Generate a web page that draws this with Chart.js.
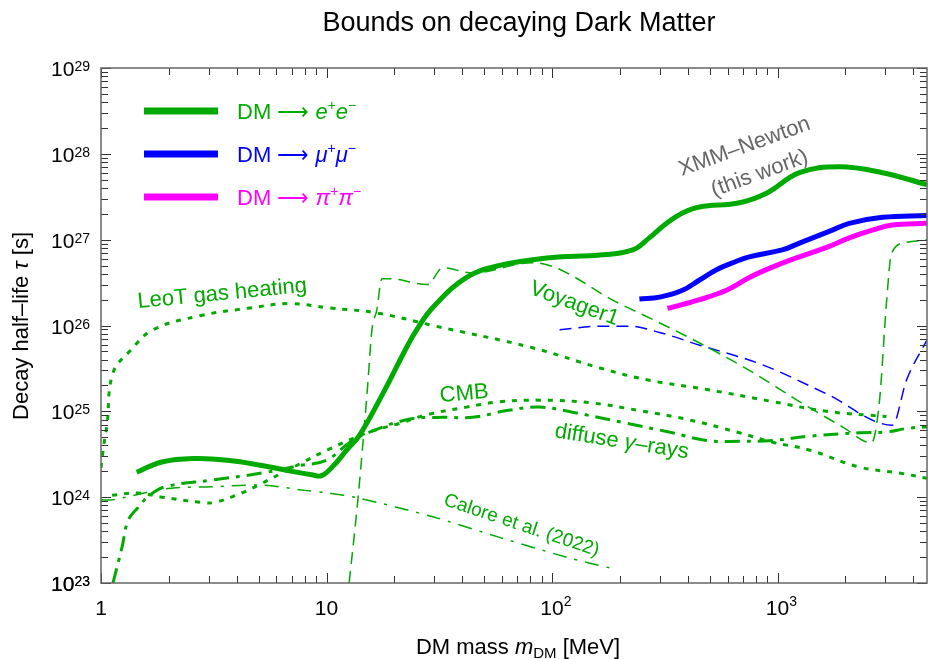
<!DOCTYPE html>
<html>
<head>
<meta charset="utf-8">
<title>Bounds on decaying Dark Matter</title>
<script src="https://cdn.jsdelivr.net/npm/chart.js@4.4.1/dist/chart.umd.min.js"></script>
<style>
  html, body { margin: 0; padding: 0; background: #fff; }
  #wrap { width: 928px; height: 659px; }
</style>
</head>
<body>
<div id="wrap"><canvas id="dmChart" width="928" height="659"></canvas></div>
<script>
// ==================== DATA ====================
// DM mass in MeV, decay half-life in s

// XMM-Newton (this work)
const eeMass = [1.44, 1.86, 2.61, 3.65, 5.17, 6.74, 8.6, 9.5, 10.7, 12.3, 14.0, 17.8, 22.7, 25.1, 29.6, 41.8, 58.6, 97.6, 163, 228, 270, 322, 379, 451, 678, 893, 1250, 1880, 2920, 4600];
const eeTau  = [1.95e24, 2.57e24, 2.82e24, 2.69e24, 2.34e24, 2.04e24, 1.82e24, 1.78e24, 2.3e24, 3.55e24, 5.25e24, 1.62e25, 5.62e25, 8.91e25, 1.62e26, 3.63e26, 5.01e26, 6.17e26, 6.61e26, 7.59e26, 1.05e27, 1.55e27, 2.04e27, 2.40e27, 2.69e27, 3.47e27, 6.03e27, 7.08e27, 6.03e27, 4.37e27];

const mmMass = [244, 300, 379, 451, 536, 631, 750, 1050, 1250, 1750, 2080, 2920, 4600];
const mmTau  = [2.04e26, 2.14e26, 2.57e26, 3.39e26, 4.47e26, 5.37e26, 6.31e26, 7.59e26, 9.12e26, 1.29e27, 1.55e27, 1.82e27, 1.91e27];

const ppMass = [325, 451, 594, 750, 949, 1250, 1650, 2080, 2630, 3230, 4600];
const ppTau  = [1.58e26, 2.0e26, 2.57e26, 3.63e26, 4.79e26, 6.31e26, 8.13e26, 1.05e27, 1.29e27, 1.48e27, 1.55e27];

// Voyager1
const voyEMass = [12.6, 13.8, 15.2, 15.9, 16.7, 17.6, 19.1, 28.1, 32.7, 44.5, 82, 199, 407, 750, 1250, 1940, 2610, 2830, 3040, 3200, 3730, 4600];
const voyETau  = [1.0e23, 9.8e23, 1.9e25, 8.9e25, 1.5e26, 3.5e26, 3.5e26, 3.0e26, 4.7e26, 4.1e26, 5.4e26, 1.8e26, 7.2e25, 3.0e25, 1.3e25, 6.6e24, 4.3e24, 1.3e25, 1.8e26, 6.9e26, 9.3e26, 1.0e27];

const voyMuMass = [108, 162, 221, 300, 451, 831, 1650, 3230, 3730, 4600];
const voyMuTau  = [8.9e25, 9.8e25, 9.8e25, 8.3e25, 5.9e25, 3.6e25, 1.6e25, 6.9e24, 2.3e25, 6.8e25];

// LeoT gas heating
const leoMass = [1.0, 1.03, 1.063, 1.13, 1.35, 1.70, 2.75, 4.57, 6.9, 10.3, 16.7, 29.6, 82, 163, 270, 484, 950, 1650, 3040];
const leoTau  = [2.2e24, 4.1e24, 6.9e24, 2.8e25, 5.1e25, 8.9e25, 1.3e26, 1.6e26, 1.8e26, 1.6e26, 1.4e26, 1.0e26, 5.5e25, 3.2e25, 2.3e25, 1.8e25, 1.3e25, 1.0e25, 8.7e24];

// CMB
const cmbMass = [1.12, 1.46, 1.86, 2.8, 3.2, 4.21, 5.17, 6.34, 7.77, 10.1, 15.1, 21.1, 27.8, 41.8, 58.6, 88, 147, 244, 407, 678, 949, 1380, 2310, 3470, 4600];
const cmbTau  = [1.05e24, 1.12e24, 1.0e24, 8.7e23, 8.7e23, 1.12e24, 1.45e24, 1.91e24, 2.51e24, 3.55e24, 5.62e24, 7.24e24, 9.12e24, 1.12e25, 1.29e25, 1.35e25, 1.26e25, 1.02e25, 7.94e24, 5.62e24, 4.37e24, 3.55e24, 2.24e24, 1.91e24, 1.66e24];

// diffuse gamma-rays
const gamMass = [1.13, 1.24, 1.32, 1.46, 1.62, 1.92, 3.1, 5.17, 7.62, 10.0, 12.7, 15.6, 23.4, 32.7, 44.5, 63, 88, 123, 206, 342, 484, 678, 949, 1380, 2310, 3040, 3730, 4600];
const gamTau  = [1.0e23, 2.63e23, 5.37e23, 7.59e23, 1.02e24, 1.32e24, 1.58e24, 1.91e24, 2.34e24, 2.69e24, 4.37e24, 5.75e24, 8.13e24, 8.51e24, 8.51e24, 1.02e25, 1.12e25, 9.77e24, 7.41e24, 5.62e24, 4.57e24, 4.47e24, 4.57e24, 5.13e24, 5.62e24, 5.75e24, 6.31e24, 6.61e24];

// Calore et al. (2022)
const calMass = [1.0, 1.12, 1.98, 3.1, 5.17, 8.0, 10.1, 13.8, 29.6, 58.6, 116, 180];
const calTau  = [9.3e23, 9.3e23, 1.26e24, 1.32e24, 1.38e24, 1.20e24, 1.12e24, 9.8e23, 5.9e23, 3.4e23, 2.0e23, 1.5e23];

// axis ranges
const massRange = [1, 4600];
const tauRange = [1e23, 1e29];

// ==================== STYLE ====================
const GREEN = '#00aa00';
const BLUE = '#0000ff';
const MAGENTA = '#ff00ff';
const GREY = '#666666';
const FONT = '"Liberation Sans", Arial, Helvetica, sans-serif';

function font(size, italic) {
  return (italic ? 'italic ' : '') + size + 'px ' + FONT;
}

// smooth: tension for a bezier curve, or 'mono' to keep sharp corners
function series(label, xs, ys, color, width, dash, smooth) {
  const ds = {
    label: label,
    data: xs.map((m, i) => ({ x: m, y: ys[i] })),
    borderColor: color,
    backgroundColor: color,
    borderWidth: width,
    borderDash: dash || [],
    borderCapStyle: 'butt',
    borderJoinStyle: 'round',
    pointRadius: 0,
    fill: false
  };
  if (smooth === 'mono') ds.cubicInterpolationMode = 'monotone';
  else ds.tension = smooth;
  return ds;
}

// ==================== TEXT HELPERS ====================
// runs: [{t, s (size), it (italic), dy}] drawn one after another on a baseline
function runsWidth(ctx, runs) {
  let w = 0;
  runs.forEach(r => { ctx.font = font(r.s, r.it); w += ctx.measureText(r.t).width; });
  return w;
}

function drawRuns(ctx, runs, x, y, align) {
  const w = runsWidth(ctx, runs);
  let cx = align === 'center' ? x - w / 2 : (align === 'right' ? x - w : x);
  ctx.textAlign = 'left';
  ctx.textBaseline = 'alphabetic';
  runs.forEach(r => {
    ctx.font = font(r.s, r.it);
    ctx.fillText(r.t, cx, y + (r.dy || 0));
    cx += ctx.measureText(r.t).width;
  });
}

function drawRotated(ctx, runs, cx, cy, deg, color) {
  ctx.save();
  ctx.translate(cx, cy);
  ctx.rotate(deg * Math.PI / 180);
  ctx.fillStyle = color;
  drawRuns(ctx, runs, 0, runs[0].s * 0.36, 'center');
  ctx.restore();
}

function isDecade(v) {
  const sig = v / Math.pow(10, Math.floor(Math.log10(v) + 1e-9));
  return Math.abs(sig - Math.round(sig)) < 1e-6;
}

// ==================== FRAME, TICKS, LABELS, LEGEND ====================
const decorations = {
  id: 'decorations',
  afterDraw(chart) {
    const { ctx, chartArea: a, scales: { x, y } } = chart;
    ctx.save();

    // ticks on all four sides, pointing inwards
    ctx.strokeStyle = '#333';
    ctx.lineWidth = 1;
    ctx.beginPath();
    x.ticks.forEach(t => {
      const v = t.value;
      if (v < massRange[0] || v > massRange[1] || !isDecade(v)) return;
      const px = Math.round(x.getPixelForValue(v)) + 0.5;
      const len = Math.abs(Math.log10(v) - Math.round(Math.log10(v))) < 1e-9 ? 10 : 7;
      ctx.moveTo(px, a.bottom); ctx.lineTo(px, a.bottom - len);
      ctx.moveTo(px, a.top); ctx.lineTo(px, a.top + len);
    });
    y.ticks.forEach(t => {
      const v = t.value;
      if (v < tauRange[0] || v > tauRange[1] || !isDecade(v)) return;
      const py = Math.round(y.getPixelForValue(v)) + 0.5;
      const len = Math.abs(Math.log10(v) - Math.round(Math.log10(v))) < 1e-9 ? 10 : 7;
      ctx.moveTo(a.left, py); ctx.lineTo(a.left + len, py);
      ctx.moveTo(a.right, py); ctx.lineTo(a.right - len, py);
    });
    ctx.stroke();

    // frame
    ctx.strokeStyle = '#666';
    ctx.lineWidth = 1.5;
    ctx.strokeRect(a.left, a.top, a.right - a.left, a.bottom - a.top);

    // tick labels
    ctx.fillStyle = '#000';
    y.ticks.forEach(t => {
      const e = Math.log10(t.value);
      if (Math.abs(e - Math.round(e)) > 1e-9) return;
      const py = y.getPixelForValue(t.value);
      const runs = [{ t: '10', s: 21 }, { t: String(Math.round(e)), s: 14, dy: -5 }];
      drawRuns(ctx, runs, 90, py + 8, 'right');
    });
    x.ticks.forEach(t => {
      const e = Math.log10(t.value);
      if (Math.abs(e - Math.round(e)) > 1e-9 || t.value > massRange[1]) return;
      const px = x.getPixelForValue(t.value);
      const n = Math.round(e);
      if (n === 0) {
        drawRuns(ctx, [{ t: '1', s: 21 }], px, 615, 'center');
      } else if (n === 1) {
        drawRuns(ctx, [{ t: '10', s: 21 }], px, 615, 'center');
      } else {
        ctx.font = font(21);
        const w10 = ctx.measureText('10').width;
        drawRuns(ctx, [{ t: '10', s: 21 }, { t: String(n), s: 14, dy: -9 }], px - w10 / 2, 615, 'left');
      }
    });

    // title and axis titles
    drawRuns(ctx, [{ t: 'Bounds on decaying Dark Matter', s: 27 }], 519, 31, 'center');
    drawRuns(ctx, [{ t: 'DM mass ', s: 22 }, { t: 'm', s: 22, it: true }, { t: 'DM', s: 15, dy: 4 }, { t: ' [MeV]', s: 22 }], 518, 654, 'center');
    ctx.save();
    ctx.translate(28, 326);
    ctx.rotate(-Math.PI / 2);
    drawRuns(ctx, [{ t: 'Decay half\u2013life ', s: 22 }, { t: '\u03c4', s: 22, it: true }, { t: ' [s]', s: 22 }], 0, 0, 'center');
    ctx.restore();

    // legend
    const legend = [
      { color: GREEN, y: 111, a: 'e', b: 'e' },
      { color: BLUE, y: 154, a: '\u03bc', b: '\u03bc' },
      { color: MAGENTA, y: 197, a: '\u03c0', b: '\u03c0' }
    ];
    legend.forEach(l => {
      ctx.strokeStyle = l.color;
      ctx.lineWidth = 7;
      ctx.lineCap = 'butt';
      ctx.beginPath();
      ctx.moveTo(144, l.y); ctx.lineTo(218, l.y);
      ctx.stroke();
      ctx.fillStyle = l.color;
      drawRuns(ctx, [
        { t: 'DM ', s: 22 }, { t: '\u27f6', s: 22 }, { t: ' ', s: 22 },
        { t: l.a, s: 22, it: true }, { t: '+', s: 14, dy: -9 },
        { t: l.b, s: 22, it: true }, { t: '\u2212', s: 14, dy: -9 }
      ], 237, l.y + 8, 'left');
    });

    // curve annotations
    drawRotated(ctx, [{ t: 'LeoT gas heating', s: 22 }], 222, 292, -5.5, GREEN);
    drawRotated(ctx, [{ t: 'CMB', s: 22 }], 464, 392, -5, GREEN);
    drawRotated(ctx, [{ t: 'Voyager1', s: 22 }], 575, 302, 20, GREEN);
    drawRotated(ctx, [{ t: 'diffuse ', s: 22 }, { t: '\u03b3', s: 22, it: true }, { t: '\u2013rays', s: 22 }], 622, 440, 9, GREEN);
    drawRotated(ctx, [{ t: 'Calore et al. (2022)', s: 19 }], 522, 524, 18.5, GREEN);
    drawRotated(ctx, [{ t: 'XMM\u2013Newton', s: 22 }], 744, 145, -20, GREY);
    drawRotated(ctx, [{ t: '(this work)', s: 22 }], 759, 172, -20, GREY);

    ctx.restore();
  }
};

// ==================== CHART ====================
const datasets = [
  series('DM \u2192 e+e- (XMM-Newton)', eeMass, eeTau, GREEN, 5, [], 0.4),
  series('DM \u2192 \u03bc+\u03bc- (XMM-Newton)', mmMass, mmTau, BLUE, 5, [], 0.4),
  series('DM \u2192 \u03c0+\u03c0- (XMM-Newton)', ppMass, ppTau, MAGENTA, 5, [], 0.4),
  series('diffuse \u03b3-rays', gamMass, gamTau, GREEN, 3, [15, 7, 4, 7], 0.4),
  series('CMB', cmbMass, cmbTau, GREEN, 3, [5, 7], 0.4),
  series('LeoT gas heating', leoMass, leoTau, GREEN, 3, [5, 7], 0.4),
  series('Voyager1 (e+e-)', voyEMass, voyETau, GREEN, 1.5, [12, 7], 'mono'),
  series('Voyager1 (\u03bc+\u03bc-)', voyMuMass, voyMuTau, BLUE, 1.5, [12, 7], 'mono'),
  series('Calore et al. (2022)', calMass, calTau, GREEN, 1.5, [14, 8, 3, 8], 0.3)
];

new Chart(document.getElementById('dmChart'), {
  type: 'line',
  data: { datasets: datasets },
  options: {
    responsive: false,
    animation: false,
    events: [],
    layout: { padding: { top: 68, right: 1, left: 0, bottom: 0 }, autoPadding: false },
    plugins: {
      legend: { display: false },
      title: { display: false },
      tooltip: { enabled: false }
    },
    scales: {
      x: {
        type: 'logarithmic',
        min: massRange[0],
        max: massRange[1],
        grid: { display: false },
        border: { display: false },
        ticks: { display: false },
        afterFit: s => { s.height = 76; }
      },
      y: {
        type: 'logarithmic',
        min: tauRange[0],
        max: tauRange[1],
        grid: { display: false },
        border: { display: false },
        ticks: { display: false },
        afterFit: s => { s.width = 101; }
      }
    }
  },
  plugins: [decorations]
});
</script>
</body>
</html>
